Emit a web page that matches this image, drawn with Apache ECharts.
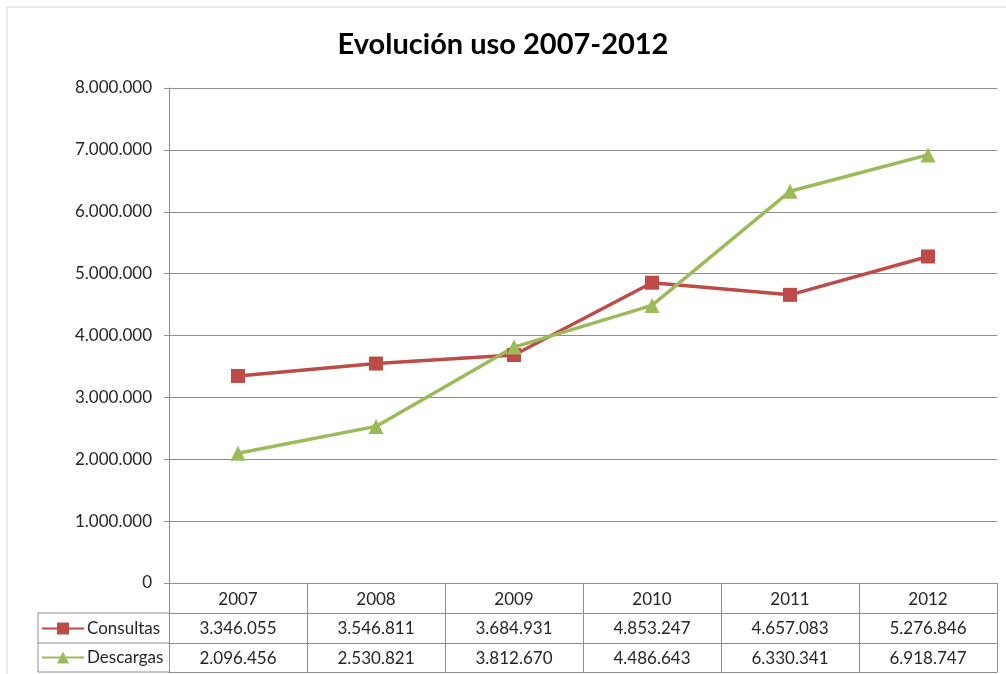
<!DOCTYPE html>
<html>
<head>
<meta charset="utf-8">
<script src="https://cdn.jsdelivr.net/npm/echarts@6/dist/echarts.min.js"></script>
<style>
html,body{margin:0;padding:0;background:#fff;}
#chart{width:1006px;height:674px;}
</style>
</head>
<body>
<div id="chart"></div>
<script>
const years = ['2007','2008','2009','2010','2011','2012'];
const consultas = [3346055, 3546811, 3684931, 4853247, 4657083, 5276846];
const descargas = [2096456, 2530821, 3812670, 4486643, 6330341, 6918747];
const titleText = 'Evolución uso 2007-2012';

function fmt(n){ return String(n).replace(/\B(?=(\d{3})+(?!\d))/g, '.'); }

const FONT = 'Lato';
const TXT = '#262626';
const GRID = '#8e8e8e';
const RED = '#BE4B48';
const GREEN = '#9BBB59';

const chart = echarts.init(document.getElementById('chart'));
const baseX = {
  type: 'category', data: years, position: 'bottom', boundaryGap: true,
  axisLine: { show: true, lineStyle: { color: GRID, width: 1 } },
  axisTick: { show: false },
  splitLine: { show: false },
  axisLabel: { interval: 0, margin: 7, fontFamily: FONT, fontSize: 17, color: TXT }
};
chart.setOption({
  animation: false,
  title: {
    text: titleText, left: 'center', top: 25,
    textStyle: { fontFamily: FONT, fontWeight: 'bold', fontSize: 29, color: '#000' }
  },
  legend: {
    orient: 'vertical', left: 41, top: 620, height: 120, padding: 0, itemGap: 12,
    itemWidth: 42, itemHeight: 15,
    textStyle: { fontFamily: FONT, fontSize: 17, color: TXT, padding: [0, 0, 0, -2] },
    data: ['Consultas', 'Descargas']
  },
  grid: { left: 169, right: 9, top: 88, bottom: 91, containLabel: false },
  xAxis: [
    Object.assign({}, baseX, {
      axisTick: { show: true, length: 89, alignWithLabel: false, interval: 0, lineStyle: { color: GRID } },
      axisLabel: Object.assign({}, baseX.axisLabel, { margin: 8 })
    }),
    Object.assign({}, baseX, {
      offset: 30,
      axisLabel: Object.assign({}, baseX.axisLabel, { formatter: (v, i) => fmt(consultas[i]) })
    }),
    Object.assign({}, baseX, {
      offset: 60,
      axisLabel: Object.assign({}, baseX.axisLabel, { formatter: (v, i) => fmt(descargas[i]) })
    }),
    Object.assign({}, baseX, {
      offset: 89,
      axisLabel: { show: false }
    })
  ],
  yAxis: {
    type: 'value', min: 0, max: 8000000, interval: 1000000,
    axisLine: { show: true, lineStyle: { color: GRID } },
    axisTick: { show: true, length: 5, lineStyle: { color: GRID } },
    splitLine: { show: true, lineStyle: { color: GRID, width: 1 } },
    axisLabel: { margin: 17, fontFamily: FONT, fontSize: 17, color: TXT, formatter: v => fmt(v) }
  },
  graphic: [
    { type: 'rect', shape: { x: 7, y: 7, width: 1020, height: 700 }, style: { fill: 'none', stroke: '#d4d4d4', lineWidth: 1 }, silent: true },
    { type: 'polyline', shape: { points: [[169, 613], [38, 613], [38, 672], [169, 672]] }, style: { fill: 'none', stroke: GRID, lineWidth: 1 }, silent: true },
    { type: 'line', shape: { x1: 38, y1: 643, x2: 169, y2: 643 }, style: { stroke: GRID, lineWidth: 1 }, silent: true }
  ],
  series: [
    {
      name: 'Consultas', type: 'line', data: consultas, xAxisIndex: 0,
      symbol: 'rect', symbolSize: 14,
      lineStyle: { color: RED, width: 3.5 }, itemStyle: { color: RED }
    },
    {
      name: 'Descargas', type: 'line', data: descargas, xAxisIndex: 0,
      symbol: 'triangle', symbolSize: 15,
      lineStyle: { color: GREEN, width: 3.5 }, itemStyle: { color: GREEN }
    }
  ]
});
</script>
</body>
</html>
